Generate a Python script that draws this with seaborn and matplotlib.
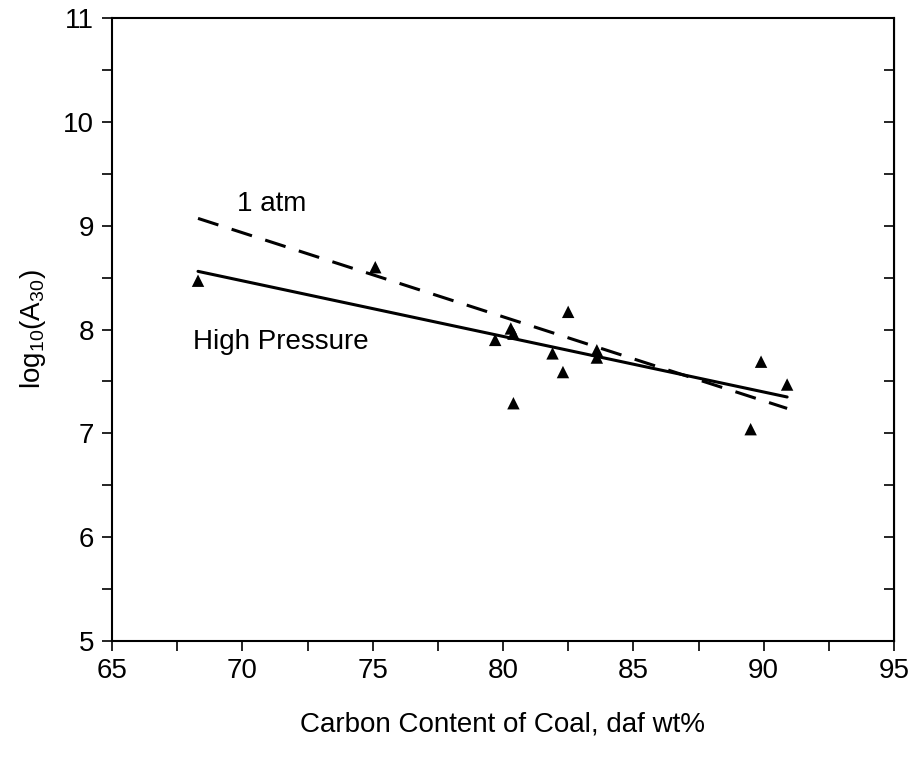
import matplotlib
matplotlib.use("Agg")
import matplotlib.pyplot as plt
import pandas as pd
import seaborn as sns
from matplotlib.ticker import MultipleLocator

# measured points
carbon = [68.3, 75.1, 79.7, 80.3, 80.4, 80.4, 81.9, 82.3, 82.5, 83.6, 83.6, 89.5, 89.9, 90.9]
log_a30 = [8.47, 8.60, 7.90, 8.01, 7.96, 7.29, 7.77, 7.59, 8.17, 7.80, 7.73, 7.04, 7.69, 7.47]

# fitted lines (end points)
fit_x = [68.3, 90.9]
high_pressure_y = [8.56, 7.35]
one_atm_y = [9.07, 7.24]

points = pd.DataFrame({"carbon": carbon, "log_a30": log_a30})
fits = pd.DataFrame({"carbon": fit_x, "hp": high_pressure_y, "atm": one_atm_y})

sns.set_style("ticks")
plt.rcParams["font.family"] = ["Liberation Sans", "DejaVu Sans"]
plt.rcParams["mathtext.fontset"] = "custom"
plt.rcParams["mathtext.rm"] = "Liberation Sans"
plt.rcParams["mathtext.it"] = "Liberation Sans"
plt.rcParams["text.color"] = "black"
plt.rcParams["axes.labelcolor"] = "black"
plt.rcParams["xtick.color"] = "black"
plt.rcParams["ytick.color"] = "black"
plt.rcParams["axes.edgecolor"] = "black"

fig = plt.figure(figsize=(9.14, 7.59), dpi=100)
ax = fig.add_axes([112 / 914, 1 - 641 / 759, 782 / 914, 623 / 759])

sns.lineplot(data=fits, x="carbon", y="hp", color="black", linewidth=2.2, ax=ax)
sns.lineplot(data=fits, x="carbon", y="atm", color="black", linewidth=2.2,
             linestyle=(0, (7, 4.55)), ax=ax)
sns.scatterplot(data=points, x="carbon", y="log_a30", marker="^", color="black",
                s=80, edgecolor="none", ax=ax, zorder=3)

ax.text(69.8, 9.21, "1 atm", fontsize=20, va="center", ha="left")
ax.text(68.1, 7.88, "High Pressure", fontsize=20, va="center", ha="left")

ax.set_xlim(65, 95)
ax.set_ylim(5, 11)
ax.xaxis.set_major_locator(MultipleLocator(5))
ax.xaxis.set_minor_locator(MultipleLocator(2.5))
ax.yaxis.set_major_locator(MultipleLocator(1))
ax.yaxis.set_minor_locator(MultipleLocator(0.5))
ax.tick_params(which="both", direction="out", length=7, width=1.2, labelsize=20)
ax.tick_params(axis="x", which="both", top=False, pad=5)
ax.tick_params(axis="y", which="both", left=True, pad=6)

# right axis: inward ticks, no labels
right = ax.secondary_yaxis("right")
right.yaxis.set_major_locator(MultipleLocator(1))
right.yaxis.set_minor_locator(MultipleLocator(0.5))
right.tick_params(which="both", direction="in", length=7, width=1.2, labelright=False)

for side in ["top", "right", "bottom", "left"]:
    ax.spines[side].set_visible(True)
    ax.spines[side].set_linewidth(1.5)

ax.set_xlabel("Carbon Content of Coal, daf wt%", fontsize=20, labelpad=20)
ax.set_ylabel(r"log$_{10}$(A$_{30}$)", fontsize=20, labelpad=11)

plt.savefig("out.png", dpi=100)
